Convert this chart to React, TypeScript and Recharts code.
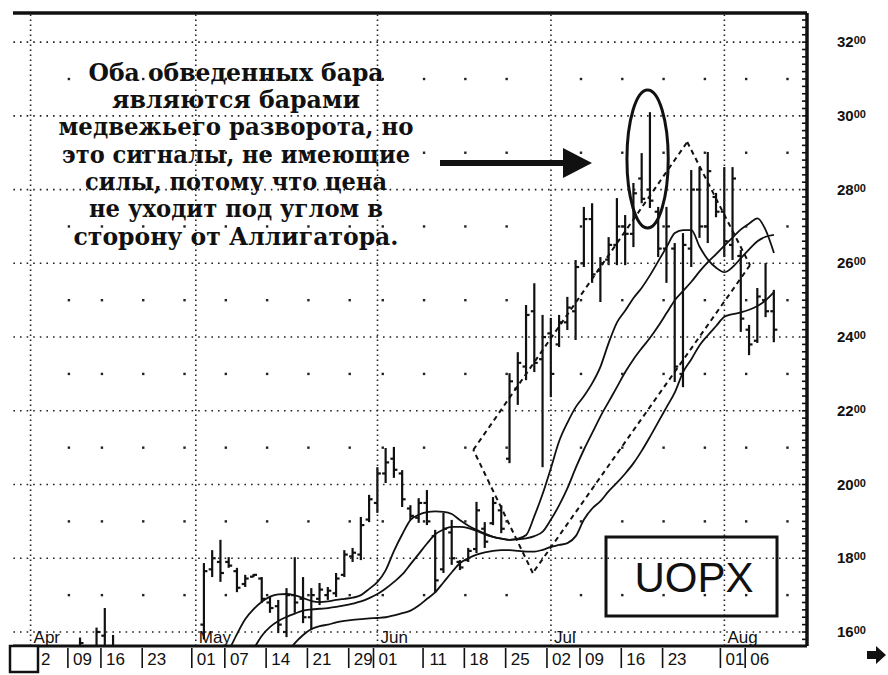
import React from 'react';
import {
  ComposedChart,
  XAxis,
  YAxis,
  Bar,
  Line,
  Scatter,
  ReferenceLine,
  ReferenceArea,
} from 'recharts';

// Day index 0 = 2 Apr 2001, counted in trading days
const tickDays = [0, 5, 9, 14, 20, 24, 29, 34, 39, 42, 48, 53, 58, 63, 67, 72, 77, 84, 87];
const tickLabels = ['2', '09', '16', '23', '01', '07', '14', '21', '29', '01', '11', '18', '25', '02', '09', '16', '23', '01', '06'];
const monthDays = [0, 20, 42, 63, 84];
const monthNames = ['Apr', 'May', 'Jun', 'Jul', 'Aug'];
const mondayDays = [5, 9, 14, 19, 24, 29, 34, 39, 43, 48, 53, 58, 67, 72, 77, 82, 87, 92];
const priceLevels = [1600, 1800, 2000, 2200, 2400, 2600, 2800, 3000, 3200];
const midLevels = [1700, 1900, 2100, 2300, 2500, 2700, 2900, 3100];

const firstBarDay = 6;
const highs = [
  1585, 1555, 1612, 1665, 1592,
  null, null, null, null, null, null, null, null, null, null,
  1787, 1822, 1850, 1803, 1774, 1755, 1757, 1749, 1695, 1687,
  1719, 1803, 1749, 1719, 1733, 1722, 1760, 1822, 1828, 1912,
  1972, 2047, 2099, 2102, 2039, 1944, 1963, 1985, 1877, 1923,
  1904, 1795, 1828, 1953, 1898, 1966, 1944, 2302, 2359, 2487,
  2546, 2460, 2452, 2460, 2509, 2609, 2753, 2763, 2617, 2671,
  2777, 2731, 2818, 2899, 3010, 2753, 2753, 2655, 2682, 2853,
  2861, 2902, 2791, 2861, 2861, 2636, 2433, 2533, 2601, 2528,
];
const lows = [
  1500, 1480, 1490, 1540, 1500,
  null, null, null, null, null, null, null, null, null, null,
  1580, 1749, 1736, 1774, 1708, 1722, 1749, 1679, 1652, 1597,
  1586, 1652, 1624, 1605, 1673, 1687, 1695, 1749, 1790, 1795,
  1898, 1923, 2004, 2018, 1939, 1904, 1896, 1890, 1706, 1760,
  1782, 1768, 1790, 1814, 1828, 1890, 1868, 2058, 2216, 2283,
  2305, 2047, 2237, 2373, 2419, 2392, 2590, 2547, 2495, 2595,
  2595, 2595, 2644, 2763, 2750, 2617, 2547, 2278, 2264, 2590,
  2669, 2655, 2725, 2617, 2609, 2414, 2351, 2384, 2454, 2386,
];
const opens = [
  1520, 1550, 1510, 1590, 1560,
  null, null, null, null, null, null, null, null, null, null,
  1620, 1770, 1790, 1790, 1765, 1730, 1750, 1745, 1680, 1670,
  1600, 1700, 1690, 1640, 1690, 1700, 1705, 1755, 1805, 1810,
  1905, 1950, 2030, 2070, 2030, 1935, 1910, 1950, 1860, 1770,
  1870, 1790, 1795, 1825, 1880, 1895, 1930, 2070, 2260, 2320,
  2470, 2340, 2410, 2380, 2440, 2470, 2600, 2720, 2580, 2610,
  2650, 2700, 2680, 2830, 2800, 2740, 2640, 2640, 2300, 2640,
  2800, 2700, 2780, 2740, 2650, 2620, 2420, 2390, 2500, 2470,
];
const closes = [
  1570, 1500, 1600, 1560, 1520,
  null, null, null, null, null, null, null, null, null, null,
  1765, 1800, 1760, 1780, 1720, 1745, 1755, 1690, 1665, 1620,
  1700, 1680, 1640, 1700, 1715, 1712, 1745, 1810, 1815, 1890,
  1960, 2030, 2060, 2040, 1960, 1915, 1950, 1900, 1740, 1880,
  1800, 1775, 1820, 1930, 1845, 1950, 1880, 2280, 2330, 2460,
  2330, 2400, 2300, 2440, 2480, 2590, 2720, 2570, 2600, 2650,
  2700, 2680, 2790, 2775, 2770, 2640, 2700, 2320, 2650, 2800,
  2700, 2850, 2740, 2660, 2830, 2450, 2380, 2510, 2470, 2420,
];

const lipsStart = 23;
const lips = [
  1510, 1550, 1595, 1635, 1662, 1682, 1696, 1702, 1703, 1699,
  1692, 1684, 1681, 1683, 1687, 1690, 1693, 1700, 1717, 1736,
  1768, 1820, 1865, 1904, 1918, 1925, 1927, 1926, 1920, 1903,
  1888, 1877, 1867, 1858, 1853, 1850, 1853, 1863, 1915, 1975,
  2045, 2118, 2168, 2210, 2240, 2275, 2320, 2385, 2440, 2472,
  2506, 2534, 2568, 2606, 2644, 2682, 2690, 2690, 2645, 2610,
  2588, 2576, 2590, 2614, 2638, 2660, 2672, 2677,
];
const teethStart = 26;
const teeth = [
  1530, 1555, 1590, 1614, 1630, 1641, 1650, 1658, 1661, 1663,
  1665, 1668, 1672, 1677, 1683, 1692, 1703, 1718, 1736, 1756,
  1784, 1812, 1840, 1865, 1878, 1885, 1885, 1882, 1874, 1865,
  1858, 1853, 1850, 1851, 1854, 1860, 1872, 1905, 1944, 1990,
  2045, 2095, 2140, 2185, 2225, 2265, 2305, 2340, 2370, 2398,
  2430, 2465, 2500, 2525, 2550, 2578, 2603, 2625, 2648, 2670,
  2692, 2708, 2722, 2690, 2628,
];
const jawStart = 31;
const jaw = [
  1540, 1570, 1592, 1608, 1616, 1620, 1626, 1630, 1633, 1635,
  1637, 1638, 1640, 1645, 1651, 1658, 1672, 1690, 1708, 1735,
  1762, 1787, 1800, 1810, 1816, 1820, 1822, 1822, 1820, 1818,
  1818, 1823, 1831, 1836, 1841, 1860, 1905, 1935, 1955, 1982,
  2005, 2030, 2058, 2092, 2130, 2170, 2210, 2250, 2305, 2340,
  2378, 2405, 2430, 2455, 2462, 2467, 2474, 2484, 2500, 2522,
];

const channelDays = [53.6, 79.5, 87.1, 60.8, 53.6];
const channelPrices = [2094, 2929, 2595, 1760, 2094];
const ringDays = [72.2, 77.2];
const ringPrices = [2696, 3070];

const noteLines = [
  'Оба обведенных бара',
  'являются барами',
  'медвежьего разворота, но',
  'это сигналы, не имеющие',
  'силы, потому что цена',
  'не уходит под углом в',
  'сторону от Аллигатора.',
];
const tickerName = 'UOPX';

const X_DOMAIN = [-2.13, 94];
const Y_DOMAIN = [1562, 3279];
const rulerTicks: number[] = [];
for (let v = 1580; v <= 3260; v += 20) rulerTicks.push(v);

const rows: any[] = [];
for (let d = 0; d <= 90; d++) {
  const bi = d - firstBarDay;
  const h = bi >= 0 && bi < highs.length ? highs[bi] : null;
  const l = bi >= 0 && bi < lows.length ? lows[bi] : null;
  rows.push({
    d,
    h,
    l,
    o: bi >= 0 ? opens[bi] : null,
    c: bi >= 0 ? closes[bi] : null,
    range: h != null && l != null ? [l, h] : null,
    lips: d >= lipsStart ? lips[d - lipsStart] : null,
    teeth: d >= teethStart ? teeth[d - teethStart] : null,
    jaw: d >= jawStart ? jaw[d - jawStart] : null,
  });
}

const dotGrid: any[] = [];
mondayDays.forEach((d) => midLevels.forEach((v) => dotGrid.push({ d, v })));

const INK = '#111';

const OhlcShape = (props: any) => {
  const p = props.payload || props;
  if (!p || p.h == null || p.l == null) return <g />;
  const top = Math.min(props.y, props.y + props.height);
  const h = Math.abs(props.height);
  const cx = props.x + props.width / 2;
  const span = p.h - p.l || 1;
  const yO = top + ((p.h - p.o) / span) * h;
  const yC = top + ((p.h - p.c) / span) * h;
  return (
    <g stroke={INK} strokeWidth={2.2}>
      <line x1={cx} x2={cx} y1={top} y2={top + h} />
      <line x1={cx - 3.5} x2={cx} y1={yO} y2={yO} />
      <line x1={cx} x2={cx + 3.5} y1={yC} y2={yC} />
    </g>
  );
};

const DayTick = (props: any) => {
  const { x, y, payload } = props;
  const i = tickDays.indexOf(payload.value);
  return (
    <g>
      <line x1={x - 4} x2={x - 4} y1={y + 2} y2={y + 22} stroke={INK} strokeWidth={1.6} />
      <text
        x={x + 20}
        y={y + 19}
        textAnchor="end"
        fontFamily="'Liberation Sans Narrow', 'Arial Narrow', 'Liberation Sans', sans-serif"
        fontSize={17}
        fill={INK}
      >
        {i >= 0 ? tickLabels[i] : ''}
      </text>
    </g>
  );
};

const PriceTick = (props: any) => {
  const { x, y, payload } = props;
  const v = payload.value;
  const s = String(v);
  const isLabel = priceLevels.indexOf(v) >= 0;
  return (
    <g>
      <line x1={x - 5} x2={x} y1={y} y2={y} stroke={INK} strokeWidth={1.6} />
      {isLabel && (
        <text
          x={x + 30}
          y={y}
          dy={5}
          fontFamily="'Liberation Sans', Arial, sans-serif"
          fontWeight="bold"
          fontSize={15}
          fill={INK}
        >
          <tspan>{s.slice(0, 2)}</tspan>
          <tspan fontSize={11} dy={-3}>{s.slice(2)}</tspan>
        </text>
      )}
    </g>
  );
};

const RulerTick = (props: any) => {
  const { x, y } = props;
  return <line x1={x} x2={x + 5} y1={y} y2={y} stroke={INK} strokeWidth={1.6} />;
};

const monthLabel = (name: string) => (props: any) => {
  const vb = props.viewBox || {};
  const bx = vb.x ?? 0;
  const by = (vb.y ?? 0) + (vb.height ?? 0);
  return (
    <text
      x={bx + 3}
      y={by - 3}
      fontFamily="'Liberation Sans Narrow', 'Arial Narrow', 'Liberation Sans', sans-serif"
      fontSize={17}
      fill={INK}
    >
      {name}
    </text>
  );
};

const DotShape = (props: any) => (
  <rect x={props.cx - 4.2} y={props.cy - 1.2} width={2.4} height={2.4} fill="#222" />
);

const RingShape = (props: any) => (
  <ellipse
    cx={props.x + props.width / 2}
    cy={props.y + props.height / 2}
    rx={props.width / 2}
    ry={props.height / 2}
    fill="none"
    stroke={INK}
    strokeWidth={3}
  />
);

const noteBaselines = [81, 108, 135, 163, 190, 217, 245];
const noteWidths = [295, 248, 355, 348, 302, 294, 325];

export default function App() {
  const segs = [];
  for (let i = 0; i < channelDays.length - 1; i++) {
    segs.push(
      <ReferenceLine
        key={'ch' + i}
        xAxisId="x"
        yAxisId="p"
        segment={[
          { x: channelDays[i], y: channelPrices[i] },
          { x: channelDays[i + 1], y: channelPrices[i + 1] },
        ]}
        stroke={INK}
        strokeWidth={2}
        strokeDasharray="5 4"
        ifOverflow="visible"
      />
    );
  }
  return (
    <div style={{ position: 'absolute', left: 0, top: 0, width: 888, height: 675, background: '#fff' }}>
      <ComposedChart width={888} height={675} data={rows} margin={{ top: 13, right: 0, bottom: 0, left: 13 }}>
        <XAxis
          xAxisId="x"
          dataKey="d"
          type="number"
          domain={X_DOMAIN}
          allowDataOverflow
          ticks={tickDays}
          interval={0}
          height={29}
          tickSize={0}
          tickMargin={0}
          tickLine={false}
          axisLine={{ stroke: INK, strokeWidth: 3 }}
          tick={<DayTick />}
        />
        <YAxis
          yAxisId="l"
          orientation="left"
          type="number"
          width={0}
          domain={Y_DOMAIN}
          allowDataOverflow
          ticks={rulerTicks}
          interval={0}
          tickSize={0}
          tickMargin={0}
          tickLine={false}
          axisLine={{ stroke: INK, strokeWidth: 3.5 }}
          tick={<RulerTick />}
        />
        <YAxis
          yAxisId="p"
          orientation="right"
          type="number"
          width={81}
          domain={Y_DOMAIN}
          allowDataOverflow
          ticks={rulerTicks}
          interval={0}
          tickSize={0}
          tickMargin={0}
          tickLine={false}
          axisLine={{ stroke: INK, strokeWidth: 3.5 }}
          tick={<PriceTick />}
        />
        <ReferenceLine
          xAxisId="x"
          yAxisId="p"
          y={Y_DOMAIN[1]}
          stroke={INK}
          strokeWidth={3.5}
          ifOverflow="visible"
        />
        {priceLevels.map((v) => (
          <ReferenceLine
            key={'h' + v}
            xAxisId="x"
            yAxisId="p"
            y={v}
            stroke="#222"
            strokeWidth={1.6}
            strokeDasharray="1.6 5"
          />
        ))}
        {monthDays.map((d, i) => (
          <ReferenceLine
            key={'m' + d}
            xAxisId="x"
            yAxisId="p"
            x={d}
            stroke="#222"
            strokeWidth={1.6}
            strokeDasharray="1.6 3.4"
            label={monthLabel(monthNames[i])}
          />
        ))}
        <Scatter
          xAxisId="x"
          yAxisId="p"
          data={dotGrid}
          dataKey="v"
          shape={DotShape}
          isAnimationActive={false}
        />
        {segs}
        <ReferenceArea
          xAxisId="x"
          yAxisId="p"
          x1={ringDays[0]}
          x2={ringDays[1]}
          y1={ringPrices[0]}
          y2={ringPrices[1]}
          shape={RingShape}
          ifOverflow="visible"
        />
        <Line xAxisId="x" yAxisId="p" dataKey="jaw" type="monotone" stroke={INK} strokeWidth={1.8} dot={false} isAnimationActive={false} />
        <Line xAxisId="x" yAxisId="p" dataKey="teeth" type="monotone" stroke={INK} strokeWidth={1.8} dot={false} isAnimationActive={false} />
        <Line xAxisId="x" yAxisId="p" dataKey="lips" type="monotone" stroke={INK} strokeWidth={1.8} dot={false} isAnimationActive={false} />
        <Bar xAxisId="x" yAxisId="p" dataKey="range" barSize={6} shape={OhlcShape} isAnimationActive={false} />
      </ComposedChart>
      <svg
        width={888}
        height={675}
        style={{ position: 'absolute', left: 0, top: 0, pointerEvents: 'none' }}
      >
        {noteLines.map((t, i) => (
          <text
            key={'n' + i}
            x={236}
            y={noteBaselines[i]}
            textAnchor="middle"
            fontFamily="'DejaVu Serif', 'Liberation Serif', serif"
            fontWeight="bold"
            fontSize={25}
            textLength={noteWidths[i]}
            lengthAdjust="spacingAndGlyphs"
            fill={INK}
          >
            {t}
          </text>
        ))}
        <rect x={440} y={160} width={126} height={6} fill={INK} />
        <polygon points="563,148 592,163 563,178" fill={INK} />
        <rect x={606} y={537} width={171} height={79} fill="none" stroke={INK} strokeWidth={3} />
        <text
          x={694}
          y={592}
          textAnchor="middle"
          fontFamily="'Liberation Sans Narrow', 'Arial Narrow', 'Liberation Sans', sans-serif"
          fontSize={42}
          fill={INK}
        >
          {tickerName}
        </text>
        <rect x={10} y={646} width={28} height={26} fill="#fff" stroke={INK} strokeWidth={2.5} />
        <polygon points="867,651 876,651 876,646 886,655 876,664 876,659 867,659" fill={INK} />
      </svg>
    </div>
  );
}
